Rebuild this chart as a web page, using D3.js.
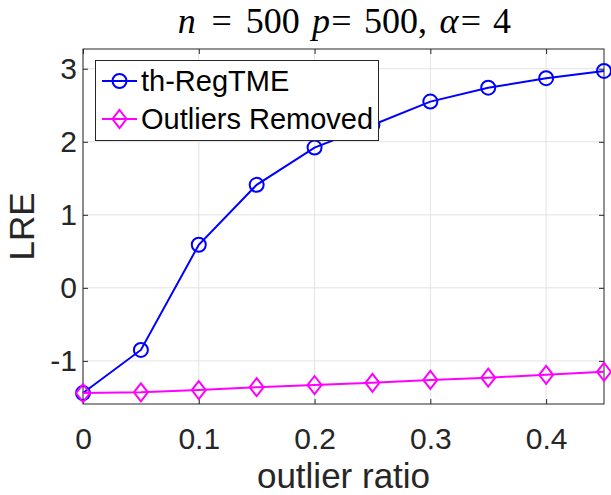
<!DOCTYPE html>
<html>
<head>
<meta charset="utf-8">
<script src="https://cdn.jsdelivr.net/npm/d3@7"></script>
<style>
  body { margin: 0; background: #fff; }
  svg { display: block; }
</style>
</head>
<body>
<script>
// outlier ratio on the x axis
var ratios = [0, 0.05, 0.1, 0.15, 0.2, 0.25, 0.3, 0.35, 0.4, 0.45];
var regTME = [-1.44, -0.85, 0.59, 1.41, 1.92, 2.23, 2.55, 2.74, 2.87, 2.97];
var removed = [-1.44, -1.43, -1.40, -1.36, -1.33, -1.30, -1.26, -1.23, -1.19, -1.15];
var xTicks = [0, 0.1, 0.2, 0.3, 0.4];
var yTicks = [-1, 0, 1, 2, 3];
var seriesNames = ["th-RegTME", "Outliers Removed"];

var w = 611, h = 495;
var mL = 83, mR = 604, mT = 49, mB = 404;
var axisColor = "#262626";
var sans = "'Liberation Sans', Arial, Helvetica, sans-serif";

var svg = d3.select("body").append("svg")
    .attr("width", w)
    .attr("height", h);

var x = d3.scaleLinear().domain([0, 0.45]).range([mL, mR]);
var y = d3.scaleLinear().domain([-1.59, 3.27]).range([mB, mT]);

// grid
svg.append("g").selectAll("line")
    .data(xTicks).enter().append("line")
    .attr("x1", function (d) { return x(d); })
    .attr("x2", function (d) { return x(d); })
    .attr("y1", mT).attr("y2", mB)
    .attr("stroke", "#e3e3e3").attr("stroke-width", 1);
svg.append("g").selectAll("line")
    .data(yTicks).enter().append("line")
    .attr("y1", function (d) { return y(d); })
    .attr("y2", function (d) { return y(d); })
    .attr("x1", mL).attr("x2", mR)
    .attr("stroke", "#e3e3e3").attr("stroke-width", 1);

// axes, ticks inward on all four sides
var fmt = function (d) { return String(d); };
var xAxis = svg.append("g")
    .attr("transform", "translate(0," + mB + ")")
    .call(d3.axisBottom(x).tickValues(xTicks).tickSize(-5).tickPadding(24).tickFormat(fmt));
var xTop = svg.append("g")
    .attr("transform", "translate(0," + mT + ")")
    .call(d3.axisTop(x).tickValues(xTicks).tickSize(-5).tickFormat(""));
var yAxis = svg.append("g")
    .attr("transform", "translate(" + mL + ",0)")
    .call(d3.axisLeft(y).tickValues(yTicks).tickSize(-5).tickPadding(6).tickFormat(fmt));
var yRight = svg.append("g")
    .attr("transform", "translate(" + mR + ",0)")
    .call(d3.axisRight(y).tickValues(yTicks).tickSize(-5).tickFormat(""));

[xAxis, xTop, yAxis, yRight].forEach(function (g) {
    g.select(".domain").remove();
    g.selectAll("line").attr("stroke", axisColor);
    g.selectAll("text")
        .attr("fill", axisColor)
        .style("font-family", sans)
        .style("font-size", "30px");
});

svg.append("rect")
    .attr("x", mL).attr("y", mT)
    .attr("width", mR - mL).attr("height", mB - mT)
    .attr("fill", "none").attr("stroke", axisColor).attr("stroke-width", 1);

// lines
var line = d3.line()
    .x(function (d, i) { return x(ratios[i]); })
    .y(function (d) { return y(d); });

svg.append("path").datum(regTME)
    .attr("d", line).attr("fill", "none")
    .attr("stroke", "#0000ff").attr("stroke-width", 2);
svg.append("path").datum(removed)
    .attr("d", line).attr("fill", "none")
    .attr("stroke", "#ff00ff").attr("stroke-width", 2);

var diamond = function (cx, cy) {
    return "M" + cx + "," + (cy - 9) + "L" + (cx + 7) + "," + cy +
        "L" + cx + "," + (cy + 9) + "L" + (cx - 7) + "," + cy + "Z";
};

svg.append("g").selectAll("circle")
    .data(regTME).enter().append("circle")
    .attr("cx", function (d, i) { return x(ratios[i]); })
    .attr("cy", function (d) { return y(d); })
    .attr("r", 7)
    .attr("fill", "none").attr("stroke", "#0000ff").attr("stroke-width", 2);

svg.append("g").selectAll("path")
    .data(removed).enter().append("path")
    .attr("d", function (d, i) { return diamond(x(ratios[i]), y(d)); })
    .attr("fill", "none").attr("stroke", "#ff00ff").attr("stroke-width", 2);

// legend
var lg = svg.append("g");
lg.append("rect")
    .attr("x", 95.5).attr("y", 60.5).attr("width", 283).attr("height", 80)
    .attr("fill", "#fff").attr("stroke", axisColor).attr("stroke-width", 1);
var rows = [81, 119];
lg.selectAll("line").data(rows).enter().append("line")
    .attr("x1", 102).attr("x2", 137)
    .attr("y1", function (d) { return d; }).attr("y2", function (d) { return d; })
    .attr("stroke", function (d, i) { return i === 0 ? "#0000ff" : "#ff00ff"; })
    .attr("stroke-width", 2);
lg.append("circle").attr("cx", 119.5).attr("cy", rows[0]).attr("r", 7)
    .attr("fill", "none").attr("stroke", "#0000ff").attr("stroke-width", 2);
lg.append("path").attr("d", diamond(119.5, rows[1]))
    .attr("fill", "none").attr("stroke", "#ff00ff").attr("stroke-width", 2);
lg.selectAll("text").data(seriesNames).enter().append("text")
    .attr("x", 141)
    .attr("y", function (d, i) { return rows[i] + 10; })
    .attr("fill", "#000")
    .style("font-family", sans)
    .style("font-size", "29px")
    .text(function (d) { return d; });

// axis labels
svg.append("text")
    .attr("x", (mL + mR) / 2).attr("y", 488)
    .attr("text-anchor", "middle")
    .attr("fill", axisColor)
    .style("font-family", sans)
    .style("font-size", "35px")
    .text("outlier ratio");

svg.append("text")
    .attr("transform", "translate(34," + ((mT + mB) / 2) + ") rotate(-90)")
    .attr("text-anchor", "middle")
    .attr("fill", axisColor)
    .style("font-family", sans)
    .style("font-size", "35px")
    .text("LRE");

// title, laid out token by token with TeX-like widths (em)
var fs = 36;
var tokens = [
    {t: "n", wd: 0.6, it: true}, {gap: 0.278}, {t: "=", wd: 0.778}, {gap: 0.278},
    {t: "500", wd: 1.5}, {gap: 0.333}, {t: "p", wd: 0.52, it: true},
    {t: "=", wd: 0.62}, {gap: 0.3}, {t: "500,", wd: 1.778}, {gap: 0.3},
    {t: "α", wd: 0.6, it: true}, {t: "=", wd: 0.62}, {gap: 0.3}, {t: "4", wd: 0.5}
];
var total = d3.sum(tokens, function (d) { return d.wd || d.gap; }) * fs;
var cx = (mL + mR) / 2 - total / 2;
tokens.forEach(function (d) {
    var wd = (d.wd || d.gap) * fs;
    if (d.t) {
        svg.append("text")
            .attr("x", cx + wd / 2).attr("y", 33)
            .attr("text-anchor", "middle")
            .attr("fill", "#000")
            .style("font-family", "'Liberation Serif', 'DejaVu Serif', serif")
            .style("font-style", d.it ? "italic" : "normal")
            .style("font-size", fs + "px")
            .text(d.t);
    }
    cx += wd;
});
</script>
</body>
</html>
